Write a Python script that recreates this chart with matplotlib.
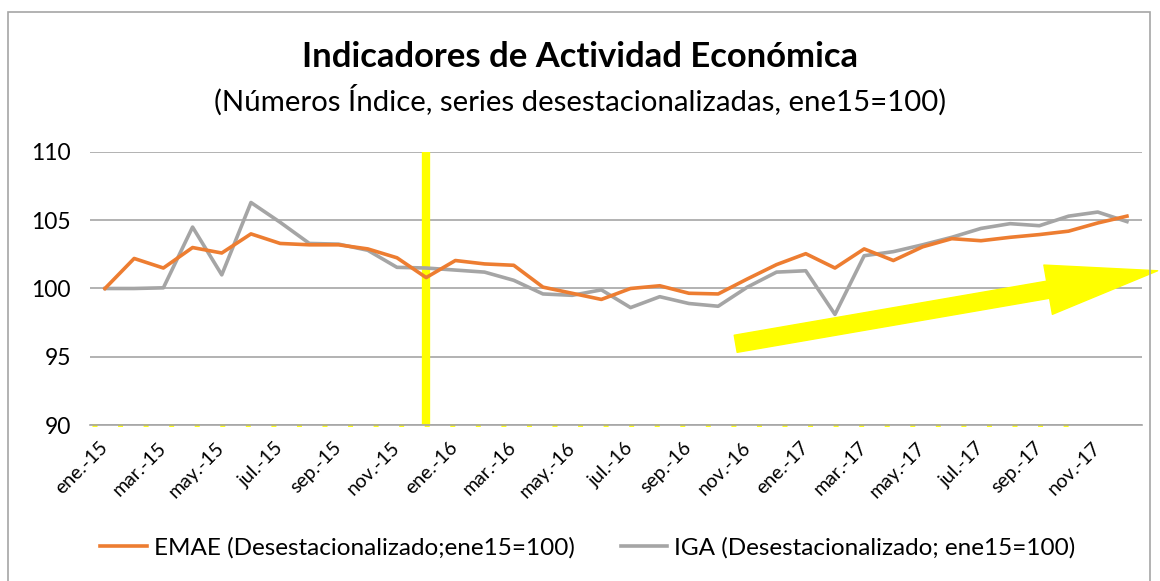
import numpy as np
import matplotlib.pyplot as plt
import matplotlib.transforms as mtransforms
from matplotlib.patches import FancyArrowPatch, Rectangle

plt.rcParams['font.family'] = ['Lato', 'DejaVu Sans']

# monthly labels ene-15 .. dic-17
meses = ['ene.', 'feb.', 'mar.', 'abr.', 'may.', 'jun.',
         'jul.', 'ago.', 'sep.', 'oct.', 'nov.', 'dic.']
labels = [f'{m}-{y}' for y in ['15', '16', '17'] for m in meses]

emae = [100.0, 102.2, 101.5, 103.0, 102.6, 104.0, 103.3, 103.2, 103.2, 102.9, 102.25, 100.8,
        102.05, 101.8, 101.7, 100.1, 99.65, 99.2, 100.0, 100.2, 99.65, 99.6, 100.7, 101.75,
        102.55, 101.5, 102.9, 102.05, 103.05, 103.65, 103.5, 103.75, 103.95, 104.2, 104.8, 105.3]
iga = [100.0, 100.0, 100.05, 104.5, 101.0, 106.3, 104.85, 103.3, 103.25, 102.8, 101.55, 101.5,
       101.35, 101.2, 100.6, 99.6, 99.5, 99.9, 98.6, 99.4, 98.9, 98.7, 100.1, 101.2,
       101.3, 98.1, 102.4, 102.7, 103.2, 103.75, 104.4, 104.75, 104.6, 105.3, 105.6, 104.9]

x = np.arange(len(labels))

fig = plt.figure(figsize=(11.6, 5.81), dpi=100)
ax = fig.add_axes([0.0779, 0.2685, 0.9062, 0.4699])

# outer chart border
fig.patches.append(Rectangle((8 / 1160, -0.05), 1142 / 1160, 1.05 - 12 / 581, transform=fig.transFigure,
                             fill=False, edgecolor='#a6a6a6', lw=1.2))

ax.plot(x, emae, color='#ED7D31', lw=2.6, label='EMAE (Desestacionalizado;ene15=100)', zorder=4)
ax.plot(x, iga, color='#A5A5A5', lw=2.6, label='IGA (Desestacionalizado; ene15=100)', zorder=3)

# yellow marker at dic-15
ax.axvline(11, color='#FFFF00', lw=6, zorder=2)
ax.plot([-0.45, 33.6], [90, 90], color='#FFFF00', lw=2, dashes=(1.8, 7.4), zorder=2, clip_on=False)

# trend arrow
arrow = FancyArrowPatch((21.6, 95.95), (36.05, 101.3), arrowstyle='simple,head_length=8,head_width=3.6,tail_width=1.25',
                        mutation_scale=10, color='#FFFF00', shrinkA=0, shrinkB=0, clip_on=False, zorder=5)
ax.add_patch(arrow)

ax.set_xlim(-0.5, 35.5)
ax.set_ylim(90, 110)
ax.set_yticks([90, 95, 100, 105, 110])
ax.yaxis.grid(True, color='#a6a6a6', lw=1.2)
ax.set_axisbelow(True)
for s in ['left', 'right', 'top']:
    ax.spines[s].set_visible(False)
ax.spines['bottom'].set_color('#a6a6a6')
ax.spines['bottom'].set_linewidth(1.2)
ax.set_xticks(x[::2])
ax.set_xticklabels(labels[::2], rotation=45, ha='right', rotation_mode='anchor', fontsize=14)
ax.tick_params(axis='both', length=0)
ax.tick_params(axis='y', labelsize=16.5, pad=14)
ax.tick_params(axis='x', pad=10)
shift = mtransforms.ScaledTranslation(-6 / 100, 0, fig.dpi_scale_trans)
for lab in ax.get_xticklabels():
    lab.set_transform(lab.get_transform() + shift)

fig.text(0.5, 1 - 57 / 581, 'Indicadores de Actividad Económica', ha='center', va='center',
         fontsize=24.9, fontweight='bold')
fig.text(0.5, 1 - 100 / 581, '(Números Índice, series desestacionalizadas, ene15=100)', ha='center', va='center',
         fontsize=21.2)

fig.legend(loc='center', bbox_to_anchor=(588 / 1160, 1 - 548 / 581), ncol=2, frameon=False, fontsize=17.5,
           handlelength=1.9, columnspacing=1.9, handletextpad=0.3)

fig.savefig('out.png', dpi=100)
